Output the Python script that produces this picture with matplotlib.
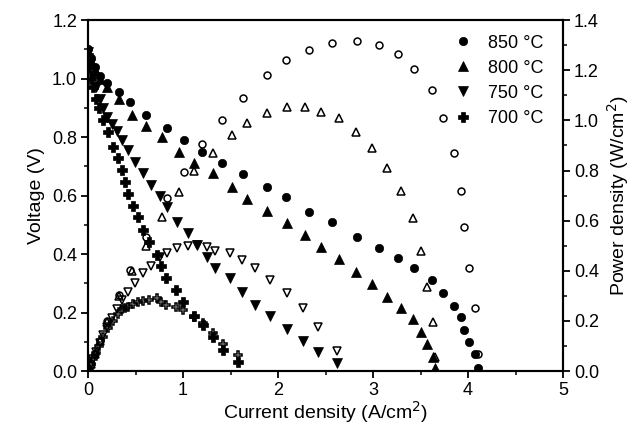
import matplotlib
matplotlib.use("Agg")
import matplotlib.pyplot as plt
from matplotlib.ticker import MultipleLocator

plt.rcParams['font.family'] = ['Liberation Sans', 'DejaVu Sans']

# ---- data ----
labels = ["850 °C", "800 °C", "750 °C", "700 °C"]

i_850 = [0.0, 0.03, 0.07, 0.12, 0.2, 0.32, 0.44, 0.61, 0.83, 1.01, 1.2, 1.41, 1.63, 1.88, 2.08,
         2.33, 2.57, 2.83, 3.06, 3.26, 3.43, 3.62, 3.74, 3.85, 3.93, 3.96, 4.01, 4.07, 4.11]
v_850 = [1.10, 1.07, 1.04, 1.01, 0.985, 0.955, 0.92, 0.875, 0.83, 0.79, 0.75, 0.71, 0.675, 0.63, 0.595,
         0.545, 0.51, 0.46, 0.42, 0.386, 0.352, 0.31, 0.267, 0.222, 0.185, 0.14, 0.10, 0.058, 0.012]
p_850 = [0.0, 0.03, 0.07, 0.12, 0.2, 0.305, 0.405, 0.535, 0.69, 0.795, 0.905, 1.0, 1.09, 1.18, 1.24,
         1.28, 1.31, 1.316, 1.30, 1.264, 1.205, 1.12, 1.01, 0.87, 0.72, 0.575, 0.41, 0.25, 0.07]

i_800 = [0.0, 0.03, 0.07, 0.12, 0.2, 0.32, 0.46, 0.61, 0.78, 0.96, 1.12, 1.32, 1.51, 1.67, 1.88,
         2.09, 2.28, 2.45, 2.64, 2.82, 2.99, 3.15, 3.29, 3.42, 3.51, 3.57, 3.63, 3.65]
v_800 = [1.09, 1.06, 1.03, 1.0, 0.97, 0.93, 0.875, 0.838, 0.80, 0.75, 0.711, 0.677, 0.629, 0.59, 0.547,
         0.506, 0.465, 0.424, 0.383, 0.338, 0.297, 0.253, 0.215, 0.178, 0.133, 0.092, 0.048, 0.01]
p_800 = [0.0, 0.03, 0.07, 0.12, 0.195, 0.30, 0.40, 0.50, 0.615, 0.714, 0.80, 0.87, 0.94, 0.99, 1.03,
         1.053, 1.053, 1.033, 1.01, 0.955, 0.89, 0.81, 0.72, 0.61, 0.48, 0.335, 0.195, 0.056]

i_750 = [0.0, 0.02, 0.05, 0.08, 0.12, 0.16, 0.2, 0.25, 0.3, 0.36, 0.42, 0.49, 0.58, 0.66, 0.76,
         0.83, 0.94, 1.05, 1.15, 1.25, 1.34, 1.49, 1.62, 1.76, 1.92, 2.09, 2.26, 2.42, 2.62]
v_750 = [1.09, 1.05, 1.01, 0.97, 0.93, 0.90, 0.87, 0.845, 0.82, 0.79, 0.755, 0.715, 0.677, 0.636, 0.598,
         0.56, 0.51, 0.472, 0.43, 0.39, 0.352, 0.318, 0.27, 0.226, 0.188, 0.144, 0.103, 0.065, 0.027]
p_750 = [0.0, 0.021, 0.05, 0.078, 0.112, 0.144, 0.174, 0.211, 0.246, 0.284, 0.317, 0.35, 0.393, 0.42, 0.455,
         0.47, 0.49, 0.497, 0.503, 0.495, 0.48, 0.47, 0.443, 0.41, 0.363, 0.31, 0.25, 0.175, 0.08]

i_700 = [0.0, 0.01, 0.03, 0.05, 0.08, 0.11, 0.16, 0.21, 0.26, 0.31, 0.36, 0.39, 0.42, 0.47, 0.52,
         0.58, 0.64, 0.73, 0.77, 0.82, 0.92, 1.0, 1.11, 1.21, 1.32, 1.42, 1.58]
v_700 = [1.08, 1.04, 1.0, 0.97, 0.93, 0.90, 0.858, 0.817, 0.766, 0.73, 0.687, 0.646, 0.605, 0.565, 0.527,
         0.482, 0.441, 0.397, 0.36, 0.318, 0.277, 0.236, 0.19, 0.157, 0.116, 0.072, 0.031]
p_700 = [0.0, 0.01, 0.03, 0.048, 0.074, 0.099, 0.137, 0.172, 0.199, 0.226, 0.247, 0.252, 0.256, 0.266, 0.274,
         0.28, 0.283, 0.29, 0.277, 0.262, 0.255, 0.245, 0.215, 0.19, 0.15, 0.11, 0.064]

currents = [i_850, i_800, i_750, i_700]
voltages = [v_850, v_800, v_750, v_700]
powers = [p_850, p_800, p_750, p_700]
markers = ["o", "^", "v", "P"]
fsz = [6.0, 7.0, 7.0, 7.5]
osz = [5.0, 6.0, 6.0, 6.0]

fig = plt.figure(figsize=(6.34, 4.28), dpi=100)
ax = fig.add_axes([0.139, 0.133, 0.749, 0.820])
ax2 = ax.twinx()

handles = []
for I, V, P, m, fs, os_, lab in zip(currents, voltages, powers, markers, fsz, osz, labels):
    h, = ax.plot(I, V, linestyle="none", marker=m, markersize=fs, color="black",
                 markeredgewidth=0.5, label=lab)
    handles.append(h)
    ax2.plot(I, P, linestyle="none", marker=m, markersize=os_, markerfacecolor="none",
             markeredgecolor="black", markeredgewidth=1.1)

ax.set_xlim(0, 5)
ax.set_ylim(0, 1.2)
ax2.set_ylim(0, 1.4)

ax.xaxis.set_major_locator(MultipleLocator(1))
ax.xaxis.set_minor_locator(MultipleLocator(0.5))
ax.yaxis.set_major_locator(MultipleLocator(0.2))
ax.yaxis.set_minor_locator(MultipleLocator(0.1))
ax2.yaxis.set_major_locator(MultipleLocator(0.2))
ax2.yaxis.set_minor_locator(MultipleLocator(0.1))

for a in (ax, ax2):
    for s in a.spines.values():
        s.set_linewidth(1.5)
    a.tick_params(which="major", direction="out", length=5, width=1.3, labelsize=13, pad=3)
    a.tick_params(which="minor", direction="out", length=3, width=1.1)

ax.set_xticks([0, 1, 2, 3, 4, 5])
ax.set_xticklabels(["0", "1", "2", "3", "4", "5"])
ax.set_xlabel("Current density (A/cm$^2$)", fontsize=14, labelpad=0)
ax.set_ylabel("Voltage (V)", fontsize=14, labelpad=5)
ax2.set_ylabel("Power density (W/cm$^2$)", fontsize=14, labelpad=4)

ax.legend(handles=handles, loc="upper left", bbox_to_anchor=(0.74, 1.0), frameon=False,
          fontsize=13, handlelength=1.0, handletextpad=0.9, labelspacing=0.45,
          borderaxespad=0.4)

fig.savefig("out.png", dpi=100)
